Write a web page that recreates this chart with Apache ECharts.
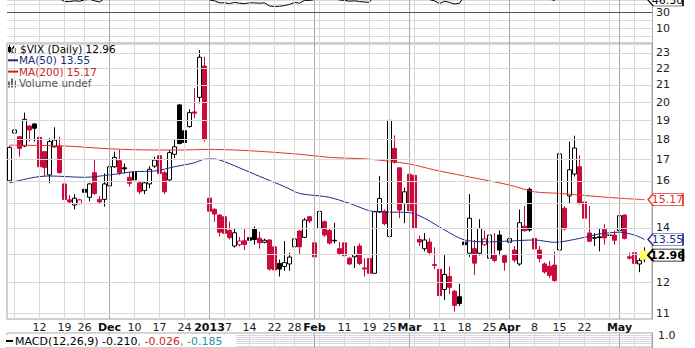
<!DOCTYPE html>
<html><head><meta charset="utf-8">
<script src="https://cdn.jsdelivr.net/npm/echarts@6/dist/echarts.min.js"></script>
<style>html,body{margin:0;padding:0;background:#fff}#c{width:695px;height:348px}</style>
</head><body><div id="c"></div>
<script>
// ---- data ----
const dates = [
 '2012-11-02','2012-11-05','2012-11-06','2012-11-07','2012-11-08','2012-11-09','2012-11-12','2012-11-13','2012-11-14','2012-11-15',
 '2012-11-16','2012-11-19','2012-11-20','2012-11-21','2012-11-23','2012-11-26','2012-11-27','2012-11-28','2012-11-29','2012-11-30',
 '2012-12-03','2012-12-04','2012-12-05','2012-12-06','2012-12-07','2012-12-10','2012-12-11','2012-12-12','2012-12-13','2012-12-14',
 '2012-12-17','2012-12-18','2012-12-19','2012-12-20','2012-12-21','2012-12-24','2012-12-26','2012-12-27','2012-12-28','2012-12-31',
 '2013-01-02','2013-01-03','2013-01-04','2013-01-07','2013-01-08','2013-01-09','2013-01-10','2013-01-11','2013-01-14','2013-01-15',
 '2013-01-16','2013-01-17','2013-01-18','2013-01-22','2013-01-23','2013-01-24','2013-01-25','2013-01-28','2013-01-29','2013-01-30',
 '2013-01-31','2013-02-01','2013-02-04','2013-02-05','2013-02-06','2013-02-07','2013-02-08','2013-02-11','2013-02-12','2013-02-13',
 '2013-02-14','2013-02-15','2013-02-19','2013-02-20','2013-02-21','2013-02-22','2013-02-25','2013-02-26','2013-02-27','2013-02-28',
 '2013-03-01','2013-03-04','2013-03-05','2013-03-06','2013-03-07','2013-03-08','2013-03-11','2013-03-12','2013-03-13','2013-03-14',
 '2013-03-15','2013-03-18','2013-03-19','2013-03-20','2013-03-21','2013-03-22','2013-03-25','2013-03-26','2013-03-27','2013-03-28',
 '2013-04-01','2013-04-02','2013-04-03','2013-04-04','2013-04-05','2013-04-08','2013-04-09','2013-04-10','2013-04-11','2013-04-12',
 '2013-04-15','2013-04-16','2013-04-17','2013-04-18','2013-04-19','2013-04-22','2013-04-23','2013-04-24','2013-04-25','2013-04-26',
 '2013-04-29','2013-04-30','2013-05-01','2013-05-02','2013-05-03','2013-05-06','2013-05-07','2013-05-08'];
const opens = [
 16.00,18.32,18.13,17.66,18.69,18.80,18.10,17.38,16.27,17.62, 17.66,15.86,15.16,14.94,14.99,15.62,15.27,16.37,15.18,15.18,
 15.77,16.65,16.94,16.60,16.16,16.42,15.91,15.56,15.86,16.68, 17.18,16.37,16.04,17.25,19.84,18.44,18.66,19.45,20.27,22.15,
 15.23,14.76,14.52,14.45,13.90,13.30,13.35,13.50,13.62,13.94, 13.60,13.44,13.53,13.27,12.66,12.55,12.64,13.27,13.88,13.63,
 14.45,13.42,13.98,14.25,13.90,13.52,13.20,13.42,12.85,12.90, 13.30,12.50,12.84,12.31,14.66,14.68,13.66,17.54,16.60,15.00,
 16.30,16.25,13.55,13.20,13.45,12.62,12.45,11.76,12.20,11.70, 11.52,13.45,13.03,13.20,13.03,13.35,12.85,12.96,13.72,12.94,
 13.44,13.15,12.64,14.07,15.62,13.59,13.15,12.64,12.56,12.60, 13.15,14.80,15.33,16.31,16.65,15.07,13.80,13.62,13.65,13.95,
 13.72,13.72,13.89,14.52,12.90,13.05,12.64,12.82];
const closes = [
 17.59,18.48,17.54,19.05,18.48,18.57,16.65,16.62,17.88,17.96, 16.37,15.18,15.07,15.23,15.16,15.49,15.86,15.44,15.07,15.86,
 16.65,17.10,16.37,16.55,15.89,16.04,15.51,15.91,16.53,16.97, 16.34,15.51,17.33,17.62,17.78,17.84,19.41,19.38,22.71,18.00,
 14.68,14.56,13.83,13.79,13.62,13.81,13.49,13.36,13.52,13.55, 13.42,13.52,12.46,12.43,12.46,12.69,12.89,13.57,13.27,14.32,
 14.28,12.90,14.67,13.72,13.41,13.50,13.02,12.94,12.64,12.98, 12.66,12.46,12.31,14.66,15.22,14.17,18.99,16.87,14.73,15.51,
 14.70,13.98,13.45,13.53,13.06,12.59,11.56,12.27,11.83,11.24, 11.30,13.35,14.39,12.67,13.98,13.57,13.72,12.77,13.15,12.70,
 13.58,12.78,14.21,13.89,13.92,13.19,12.84,12.36,12.24,12.06, 17.27,13.96,16.51,17.56,15.00,14.39,13.48,13.60,13.62,13.61,
 13.71,13.52,14.49,13.59,12.85,12.66,12.76,12.96];
const lows = [
 15.95,18.13,17.13,17.60,17.88,17.88,16.19,16.19,15.89,17.58, 16.33,15.10,15.02,14.76,14.97,15.45,15.10,15.37,15.03,14.87,
 15.37,16.60,16.27,16.34,15.74,16.00,15.41,15.41,15.67,16.60, 16.27,15.41,16.00,17.06,17.75,17.80,18.60,19.10,19.93,17.88,
 14.60,14.25,13.66,13.70,13.55,13.24,13.28,13.15,13.25,13.35, 13.20,13.40,12.40,12.25,12.20,12.40,12.40,13.27,13.00,13.60,
 14.20,12.60,13.95,13.65,13.35,13.40,12.95,12.80,12.60,12.50, 12.60,12.20,12.08,12.31,14.60,14.10,13.53,16.80,14.39,14.19,
 14.60,13.90,13.30,13.10,12.95,12.45,11.50,11.41,11.60,11.04, 11.22,12.75,12.90,12.25,12.95,13.30,12.40,12.70,12.95,12.40,
 13.44,12.70,12.58,13.85,13.85,13.10,12.70,12.30,12.15,12.00, 12.60,13.90,15.00,16.20,14.95,13.85,13.48,13.30,13.10,13.35,
 13.40,13.35,13.85,13.55,12.80,12.60,12.35,12.70];
const highs = [
 17.65,18.69,18.15,19.41,18.72,18.82,18.12,17.40,18.05,18.62, 18.13,15.95,15.37,15.41,15.20,15.66,15.91,16.97,15.33,16.34,
 16.97,17.38,17.46,16.81,16.42,16.50,15.95,15.95,16.68,17.13, 17.20,16.46,17.46,17.96,19.90,18.50,19.60,20.80,23.18,22.75,
 15.89,14.80,14.56,14.60,14.25,14.00,13.65,14.00,13.90,14.05, 13.85,13.58,13.55,13.33,12.80,13.49,13.05,13.90,13.90,14.40,
 14.48,13.45,14.80,14.30,14.00,14.20,13.45,13.60,12.90,13.30, 13.40,12.85,12.90,14.70,16.22,14.75,19.31,18.20,16.60,15.70,
 16.80,16.40,13.70,13.80,13.60,13.25,12.50,12.96,12.55,11.75, 11.95,13.60,15.41,13.53,14.35,13.90,14.60,13.80,13.90,13.00,
 14.30,13.30,14.75,14.90,15.70,14.05,13.30,12.70,12.75,13.10, 17.30,14.90,17.88,18.18,17.20,15.07,14.90,13.80,14.00,14.15,
 13.90,13.90,14.75,14.55,13.05,13.10,12.85,13.25];
const ma50 = [
 ['2012-11-02',15.91],['2012-11-09',16.16],['2012-11-14',16.22],['2012-11-26',16.16],['2012-12-03',16.27],['2012-12-10',16.42],
 ['2012-12-14',16.45],['2012-12-20',16.65],['2012-12-27',16.84],['2012-12-31',17.01],['2013-01-03',17.02],['2013-01-07',16.89],
 ['2013-01-11',16.50],['2013-01-17',16.11],['2013-01-24',15.74],['2013-01-29',15.44],['2013-02-04',15.33],['2013-02-06',15.27],
 ['2013-02-12',15.01],['2013-02-20',14.66],['2013-03-01',14.62],['2013-03-06',14.39],['2013-03-12',13.92],['2013-03-18',13.53],
 ['2013-03-25',13.46],['2013-04-01',13.49],['2013-04-08',13.53],['2013-04-12',13.44],['2013-04-19',13.59],['2013-04-25',13.76],
 ['2013-05-01',13.83],['2013-05-06',13.72],['2013-05-08',13.55]];
const ma200 = [
 ['2012-11-02',17.70],['2012-11-19',17.66],['2012-12-03',17.52],['2012-12-14',17.46],['2012-12-21',17.46],['2013-01-02',17.49],
 ['2013-01-09',17.46],['2013-01-17',17.38],['2013-01-29',17.25],['2013-02-06',17.10],['2013-02-19',17.01],['2013-03-01',16.78],
 ['2013-03-08',16.50],['2013-03-18',16.22],['2013-04-01',15.81],['2013-04-08',15.51],['2013-04-15',15.44],['2013-04-23',15.33],
 ['2013-05-01',15.23],['2013-05-08',15.17]];
const rsi = [
 55,58,54,60,57,58,48,48,54,55, 47,43,43,44,43.5,45,46,44,42.5,47,
 52,54,50,50,48,49,46.5,48,51,53, 49,46,53,55,55,56,60,60,68,52,
 45,44,41.5,41.5,40.5,42,41,40.5,41.5,41.5, 41,41.5,37.5,37,37.2,38,39.5,42,41,44.5,
 44.5,45.5,51,48,47,47,45,44.5,43.5,44, 43,42.5,42,52,55,51,66,60,52,54,
 52,48,46,47,45.5,44,40.5,43.5,42,40, 41,50,54,47,51,51,51.5,48,50,48,
 50,47.5,53,52,52,50,48,46.5,46,44.5, 60,51,56,59,52,50,48,48.5,48.5,48.5,
 49,48,51,48,46,45.5,46,46.3];
const tickDates = ['2012-11-12','2012-11-19','2012-11-26','2012-12-03','2012-12-10','2012-12-17','2012-12-24','2013-01-02','2013-01-07',
 '2013-01-14','2013-01-22','2013-01-28','2013-02-01','2013-02-11','2013-02-19','2013-02-25','2013-03-01','2013-03-11','2013-03-18',
 '2013-03-25','2013-04-01','2013-04-08','2013-04-15','2013-04-22','2013-05-01','2013-05-06'];
const tickTexts = ['12','19','26','Dec','10','17','24','2013','7','14','22','28','Feb','11','19','25','Mar','11','18','25','Apr','8','15','22','May','6'];
const boldTexts = ['Dec','2013','Feb','Mar','Apr','May'];
const weekDates = ['2012-11-05','2013-02-04','2013-03-04','2013-04-29'];
const monthDates = ['2012-12-03','2013-01-02','2013-02-01','2013-03-01','2013-04-01','2013-05-01'];
const yTicks = [11,12,13,14,15,16,17,18,19,20,21,22,23];
const yHiddenLabels = [13, 15];   // covered by the price tags in the reference
const macdText = ['MACD(12,26,9) -0.210', ', -0.026', ', -0.185'];

// ---- styling ----
const FONT = '"DejaVu Sans", Verdana, sans-serif';
const RED = '#cc0a3c', BLK = '#000000', C50 = '#1c2a88', C200 = '#e2342c';
const GRIDC = '#d9d9d9', MONTHC = '#a9a9a9';
const L = 7, R = 43;
const cats = dates.concat(['']);
const padIndex = cats.length - 1;
const last = closes.length - 1;
const ma50Last = ma50[ma50.length - 1][1], ma200Last = ma200[ma200.length - 1][1];
const rsiLast = rsi[rsi.length - 1];
const TOPMAX = 45;

const candleData = dates.map((d, i) => {
  const up = i === 0 ? true : closes[i] >= closes[i - 1];
  const c = up ? BLK : RED;
  const fill = closes[i] < opens[i] ? c : '#ffffff';
  return { value: [opens[i], closes[i], lows[i], highs[i]],
    itemStyle: { color: fill, color0: fill, borderColor: c, borderColor0: c, borderColorDoji: c } };
});

const vLines = tickDates.concat(weekDates).map(d => ({
  xAxis: d, lineStyle: { color: monthDates.includes(d) ? MONTHC : GRIDC }, label: { show: false } }))
  .concat(monthDates.filter(d => !tickDates.includes(d)).map(d => ({ xAxis: d, lineStyle: { color: MONTHC }, label: { show: false } })));

function vGrid(xi, yi) {
  return { type: 'line', xAxisIndex: xi, yAxisIndex: yi, data: [], silent: true, z: 1,
    markLine: { silent: true, symbol: 'none', animation: false, lineStyle: { width: 1, type: 'solid' }, data: vLines } };
}
function tag(yv, text, color, bold) {
  return { coord: [padIndex, yv], value: text,
    symbol: 'path://M0,6L6,0L40,0L40,12L6,12Z', symbolSize: [35, 12], symbolOffset: [16, 0],
    itemStyle: { color: '#ffffff', borderColor: color, borderWidth: bold ? 1.5 : 1 },
    label: { show: true, position: 'inside', offset: [2, 0], formatter: text, color: bold ? '#000' : color,
      fontSize: 11, fontWeight: bold ? 'bold' : 'normal', fontFamily: FONT } };
}
const LF = '10.5px ' + FONT;

const option = {
  animation: false,
  grid: [
    { left: L, right: R, top: 43, bottom: 29, show: true, borderColor: '#a0a0a0', borderWidth: 1 },
    { left: L, right: R, top: 0, height: 44, show: false },
    { left: L, right: R, top: 333, height: 40, show: true, borderColor: '#a0a0a0', borderWidth: 1 }
  ],
  xAxis: [
    { gridIndex: 0, type: 'category', data: cats, boundaryGap: true,
      axisLine: { show: false }, axisTick: { show: false }, splitLine: { show: false },
      axisLabel: { interval: (i, v) => tickDates.includes(v), margin: 3, fontSize: 11, fontFamily: FONT, color: '#222',
        formatter: v => { const t = tickTexts[tickDates.indexOf(v)];
          if (boldTexts.includes(t)) return '{b|' + t + '}';
          if (t === '7') return '{p|' + t + '}';
          return t; },
        rich: { b: { fontWeight: 'bold', fontSize: 11, fontFamily: FONT, color: '#111' },
                p: { fontSize: 11, fontFamily: FONT, color: '#222', padding: [0, 0, 0, 8] } } } },
    { gridIndex: 1, type: 'category', data: cats, boundaryGap: true, show: false },
    { gridIndex: 2, type: 'category', data: cats, boundaryGap: true, show: false }
  ],
  yAxis: [
    { gridIndex: 0, type: 'log', logBase: 10, min: 10.815, max: 23.646, position: 'right',
      axisLine: { show: true, lineStyle: { color: '#999', type: 'dotted' } },
      axisLabel: { show: false }, axisTick: { show: false }, splitLine: { show: false } },
    { gridIndex: 1, type: 'value', min: -10, max: TOPMAX, interval: 10, position: 'right',
      axisLine: { show: true, lineStyle: { color: '#999', type: 'dotted' } }, axisTick: { show: false },
      axisLabel: { margin: 4, fontSize: 11, fontFamily: FONT, color: '#222', formatter: v => (v === 10 || v === 30) ? String(v) : '' },
      splitLine: { lineStyle: { color: GRIDC } } },
    { gridIndex: 2, type: 'value', min: -2, max: 1.5, interval: 0.5, position: 'right',
      axisLine: { show: true, lineStyle: { color: '#999', type: 'dotted' } }, axisTick: { show: false },
      axisLabel: { margin: 6, fontSize: 11, fontFamily: FONT, color: '#222', formatter: v => v === 1 ? '1.0' : '' },
      splitLine: { lineStyle: { color: GRIDC } } }
  ],
  series: [
    vGrid(0, 0), vGrid(1, 1), vGrid(2, 2),
    { type: 'line', xAxisIndex: 0, yAxisIndex: 0, data: [], silent: true, z: 1,
      markLine: { silent: true, symbol: 'none', animation: false,
        lineStyle: { color: GRIDC, width: 1, type: 'solid' },
        label: { show: true, position: 'end', distance: 4, formatter: p => String(p.value), color: '#222', fontSize: 11, fontFamily: FONT },
        data: yTicks.map(v => ({ yAxis: v, label: { show: !yHiddenLabels.includes(v) } })) } },
    { type: 'line', xAxisIndex: 0, yAxisIndex: 0, data: [], silent: true, z: 2,
      markPoint: { silent: true, animation: false, symbol: 'rect', symbolSize: [9, 9],
        itemStyle: { color: '#ffff66' }, label: { show: false },
        data: [{ coord: [dates[last], closes[last]] }] } },
    { type: 'candlestick', xAxisIndex: 0, yAxisIndex: 0, data: candleData, barWidth: 4, z: 3,
      itemStyle: { borderWidth: 1 } },
    { type: 'line', xAxisIndex: 0, yAxisIndex: 0, data: ma200, showSymbol: false, smooth: 0.3, z: 4,
      lineStyle: { color: C200, width: 1 } },
    { type: 'line', xAxisIndex: 0, yAxisIndex: 0, data: ma50, showSymbol: false, smooth: 0.3, z: 4,
      lineStyle: { color: C50, width: 1 } },
    { type: 'line', xAxisIndex: 0, yAxisIndex: 0, data: [], silent: true, z: 10,
      markPoint: { silent: true, animation: false, data: [
        tag(ma200Last, ma200Last.toFixed(2), C200, false),
        tag(ma50Last, ma50Last.toFixed(2), C50, false),
        tag(closes[last], closes[last].toFixed(2), '#000', true) ] } },
    { type: 'line', xAxisIndex: 1, yAxisIndex: 1, data: rsi, showSymbol: false, z: 4,
      lineStyle: { color: '#000', width: 1 },
      markLine: { silent: true, symbol: 'none', animation: false, label: { show: false },
        lineStyle: { color: '#555', width: 1, type: 'solid' }, data: [{ yAxis: 30 }] },
      markPoint: { silent: true, animation: false,
        data: [tag(Math.min(rsiLast, TOPMAX), rsiLast.toFixed(2), '#000', false)] } }
  ],
  graphic: [
    { type: 'group', x: 8, y: 45, z: 100, children: [
      { type: 'line', shape: { x1: 1.5, y1: 0, x2: 1.5, y2: 9 }, style: { stroke: '#000', lineWidth: 1 } },
      { type: 'rect', shape: { x: 0, y: 2, width: 3, height: 5 }, style: { fill: '#000' } },
      { type: 'line', shape: { x1: 5.5, y1: 1, x2: 5.5, y2: 9 }, style: { stroke: '#000', lineWidth: 1 } },
      { type: 'rect', shape: { x: 4, y: 3, width: 3, height: 5 }, style: { fill: '#fff', stroke: '#000', lineWidth: 1 } }
    ] },
    { type: 'text', x: 20, y: 49, z: 100, style: { text: '$VIX (Daily) ' + closes[last].toFixed(2), fill: '#000', font: LF, verticalAlign: 'middle' } },
    { type: 'line', z: 100, shape: { x1: 8, y1: 60.3, x2: 18, y2: 60.3 }, style: { stroke: C50, lineWidth: 2 } },
    { type: 'text', x: 19, y: 60.3, z: 100, style: { text: 'MA(50) ' + ma50Last.toFixed(2), fill: '#1a2a7a', font: LF, verticalAlign: 'middle' } },
    { type: 'line', z: 100, shape: { x1: 8, y1: 71.6, x2: 18, y2: 71.6 }, style: { stroke: '#cc1f1f', lineWidth: 2 } },
    { type: 'text', x: 19, y: 71.6, z: 100, style: { text: 'MA(200) ' + ma200Last.toFixed(2), fill: '#cc1f1f', font: LF, verticalAlign: 'middle' } },
    { type: 'group', x: 8, y: 78.5, z: 100, children: [
      { type: 'rect', shape: { x: 0, y: 3, width: 2, height: 6 }, style: { fill: '#666' } },
      { type: 'rect', shape: { x: 3, y: 0, width: 2, height: 9 }, style: { fill: '#666' } },
      { type: 'rect', shape: { x: 6, y: 2, width: 2, height: 7 }, style: { fill: '#666' } }
    ] },
    { type: 'text', x: 19, y: 82.9, z: 100, style: { text: 'Volume undef', fill: '#555', font: LF, verticalAlign: 'middle' } },
    { type: 'rect', z: 100, shape: { x: 4, y: 335, width: 232, height: 12 }, style: { fill: '#ffffff' } },
    { type: 'line', z: 101, shape: { x1: 6, y1: 341, x2: 13, y2: 341 }, style: { stroke: '#000', lineWidth: 2 } },
    { type: 'text', x: 15, y: 341, z: 101, style: { text: '{k|' + macdText[0] + '}{r|' + macdText[1] + '}{t|' + macdText[2] + '}',
      font: '11px ' + FONT, verticalAlign: 'middle',
      rich: { k: { fill: '#000', font: '11px ' + FONT }, r: { fill: '#cc1f1f', font: '11px ' + FONT }, t: { fill: '#2f8fa8', font: '11px ' + FONT } } } }
  ]
};
const chart = echarts.init(document.getElementById('c'), null, { renderer: 'svg' });
chart.setOption(option);
</script>
</body></html>
